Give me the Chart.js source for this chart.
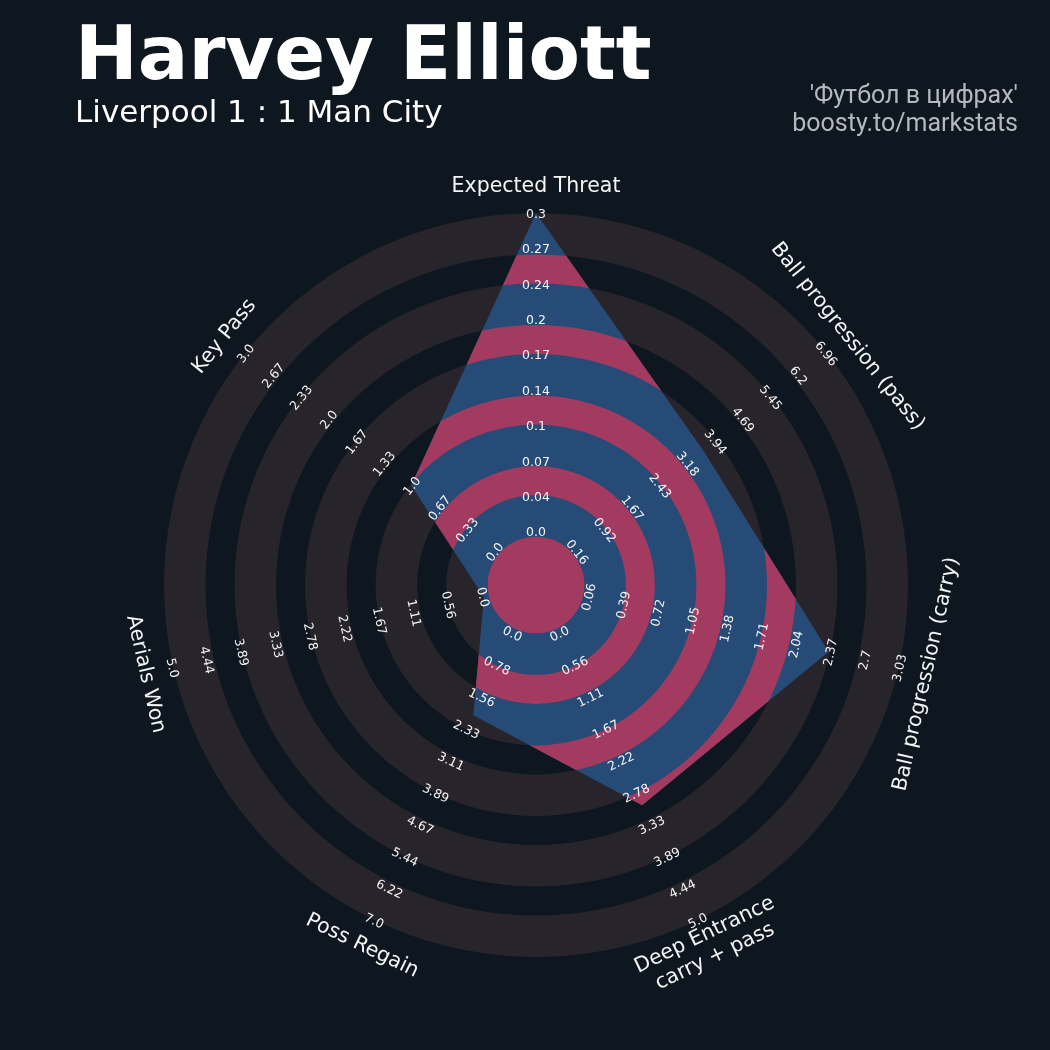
<!DOCTYPE html>
<html lang="en">
<head>
<meta charset="UTF-8">
<title>Harvey Elliott - radar</title>
<script src="https://cdn.jsdelivr.net/npm/chart.js"></script>
<style>
  body { margin: 0; background: #0e1720; }
  .wrap { position: relative; width: 1050px; height: 1050px; overflow: hidden; }
  canvas { position: absolute; left: 0; top: 0; }
  .title { position: absolute; left: 75px; top: 16px; font: bold 75px/1 'DejaVu Sans', sans-serif; color: #ffffff; white-space: nowrap; }
  .sub { position: absolute; left: 75px; top: 96px; font: 31px/1 'DejaVu Sans', sans-serif; color: #ffffff; white-space: nowrap; }
  .credit { position: absolute; right: 32px; top: 81px; font: 25px/28px Roboto, sans-serif; color: #b5b9bd; text-align: right; white-space: nowrap; }
</style>
</head>
<body>
<div class="wrap">
  <canvas id="radar" width="1050" height="1050"></canvas>
  <div class="title">Harvey Elliott</div>
  <div class="sub">Liverpool 1 : 1 Man City</div>
  <div class="credit">'Футбол в цифрах'<br>boosty.to/markstats</div>
</div>
<script>
// params clockwise from the top
const params = ['Expected Threat', 'Ball progression (pass)', 'Ball progression (carry)',
                ['Deep Entrance', 'carry + pass'], 'Poss Regain', 'Aerials Won', 'Key Pass'];
const values = [0.3, 3.6, 2.36, 3.0, 2.0, 0.0, 1.0];
const lows   = [0.0, 0.16, 0.06, 0.0, 0.0, 0.0, 0.0];
const highs  = [0.3, 6.96, 3.03, 5.0, 7.0, 5.0, 3.0];

// range labels as printed on each axis
const xtTicks      = ['0.0', '0.04', '0.07', '0.1', '0.14', '0.17', '0.2', '0.24', '0.27', '0.3'];
const passTicks    = ['0.16', '0.92', '1.67', '2.43', '3.18', '3.94', '4.69', '5.45', '6.2', '6.96'];
const carryTicks   = ['0.06', '0.39', '0.72', '1.05', '1.38', '1.71', '2.04', '2.37', '2.7', '3.03'];
const deepTicks    = ['0.0', '0.56', '1.11', '1.67', '2.22', '2.78', '3.33', '3.89', '4.44', '5.0'];
const regainTicks  = ['0.0', '0.78', '1.56', '2.33', '3.11', '3.89', '4.67', '5.44', '6.22', '7.0'];
const aerialTicks  = ['0.0', '0.56', '1.11', '1.67', '2.22', '2.78', '3.33', '3.89', '4.44', '5.0'];
const keyPassTicks = ['0.0', '0.33', '0.67', '1.0', '1.33', '1.67', '2.0', '2.33', '2.67', '3.0'];
const rangeLabels = [xtTicks, passTicks, carryTicks, deepTicks, regainTicks, aerialTicks, keyPassTicks];

const RING = '#28242b', BLUE = '#264b77', PINK = '#a33a60', TEXT = '#f4f4f4';
// ring edges as a share of the outer radius (centre circle, then ring / gap alternating)
const ringEdges = [0.13, 0.2417, 0.3196, 0.4313, 0.5092, 0.6209, 0.6988, 0.8105, 0.8884, 1.0];

// each axis scaled to 0..1 of its own range
const scaled = values.map((v, i) => (v - lows[i]) / (highs[i] - lows[i]));

function annulus(ctx, x, y, r1, r2) {
    ctx.beginPath();
    ctx.arc(x, y, r2, 0, Math.PI * 2);
    if (r1 > 0) ctx.arc(x, y, r1, 0, Math.PI * 2, true);
    ctx.fill();
}

// keep text upright, perpendicular to its axis
function textRotation(angle) {
    if (angle > Math.PI / 2 && angle < Math.PI * 1.5) return angle - Math.PI;
    if (angle >= Math.PI * 1.5) return angle - Math.PI * 2;
    return angle;
}

const ringsPlugin = {
    id: 'rings',
    beforeDatasetsDraw(chart) {
        const s = chart.scales.r;
        const ctx = chart.ctx;
        const R = s.drawingArea;
        ctx.save();
        ctx.fillStyle = RING;
        for (let k = 0; k < ringEdges.length - 1; k += 2) {
            annulus(ctx, s.xCenter, s.yCenter, ringEdges[k] * R, ringEdges[k + 1] * R);
        }
        ctx.restore();
    },
    afterDatasetsDraw(chart) {
        const s = chart.scales.r;
        const ctx = chart.ctx;
        const R = s.drawingArea;
        const pts = chart.getDatasetMeta(0).data;

        // pink bands, only inside the player polygon
        ctx.save();
        ctx.beginPath();
        pts.forEach((p, i) => i ? ctx.lineTo(p.x, p.y) : ctx.moveTo(p.x, p.y));
        ctx.closePath();
        ctx.clip();
        ctx.fillStyle = PINK;
        annulus(ctx, s.xCenter, s.yCenter, 0, ringEdges[0] * R);
        for (let k = 1; k < ringEdges.length - 1; k += 2) {
            annulus(ctx, s.xCenter, s.yCenter, ringEdges[k] * R, ringEdges[k + 1] * R);
        }
        ctx.restore();

        // range labels
        ctx.save();
        ctx.fillStyle = TEXT;
        ctx.textAlign = 'center';
        ctx.textBaseline = 'middle';
        ctx.font = '12.5px "DejaVu Sans"';
        rangeLabels.forEach((labels, i) => {
            const rot = textRotation(s.getIndexAngle(i));
            labels.forEach((txt, k) => {
                const pos = s.getPointPosition(i, s.getDistanceFromCenterForValue(k / (labels.length - 1)));
                ctx.save();
                ctx.translate(pos.x, pos.y);
                ctx.rotate(rot);
                ctx.fillText(txt, 0, 1.5);
                ctx.restore();
            });
        });

        // parameter names
        ctx.font = '20.5px "DejaVu Sans"';
        params.forEach((name, i) => {
            const rot = textRotation(s.getIndexAngle(i));
            const pos = s.getPointPosition(i, R + 27.5);
            const lines = Array.isArray(name) ? name : [name];
            ctx.save();
            ctx.translate(pos.x, pos.y);
            ctx.rotate(rot);
            lines.forEach((ln, j) => {
                ctx.fillText(ln, 0, 1 + (j - (lines.length - 1) / 2) * 24);
            });
            ctx.restore();
        });
        ctx.restore();
    }
};

new Chart(document.getElementById('radar'), {
    type: 'radar',
    data: {
        labels: params,
        datasets: [{
            data: scaled,
            backgroundColor: BLUE,
            borderWidth: 0,
            pointRadius: 0,
            fill: 'start',
            tension: 0
        }]
    },
    options: {
        responsive: false,
        animation: false,
        layout: { padding: { left: 164, top: 213, right: 141, bottom: 92 } },
        plugins: { legend: { display: false }, tooltip: { enabled: false } },
        scales: {
            r: {
                min: -0.1677,
                max: 1,
                ticks: { display: false },
                grid: { display: false },
                angleLines: { display: false },
                pointLabels: { display: false }
            }
        }
    },
    plugins: [ringsPlugin]
});
</script>
</body>
</html>
